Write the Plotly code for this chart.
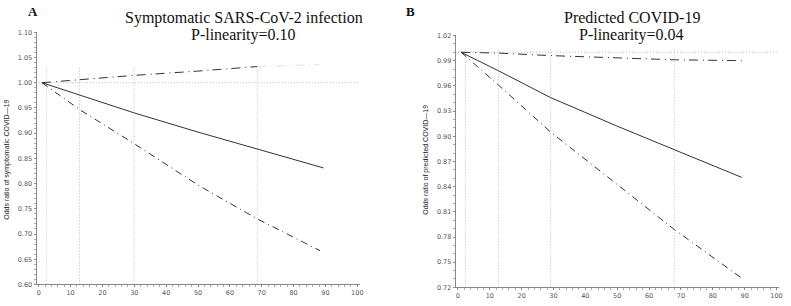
import plotly.graph_objects as go

# ---- data ----
a_x = [1, 13, 30, 50, 68.6, 89.4]
a_or = [1.0, 0.975, 0.940, 0.902, 0.868, 0.831]
a_lo_x = [1, 13, 30, 50, 68.6, 88.3]
a_lo = [1.0, 0.946, 0.879, 0.797, 0.730, 0.667]
a_hi_x = [1, 13, 30, 50, 68.6]
a_hi = [1.0, 1.006, 1.0145, 1.023, 1.032]
a_hi_tail_x = [68.6, 88.0]
a_hi_tail = [1.032, 1.036]
a_knots = [2.4, 12.8, 29.9, 68.6]

b_x = [1, 12.7, 29.1, 50, 67.9, 89.1]
b_or = [1.0, 0.978, 0.946, 0.912, 0.884, 0.851]
b_lo = [1.0, 0.961, 0.905, 0.842, 0.789, 0.731]
b_hi = [1.0, 0.999, 0.996, 0.993, 0.991, 0.990]
b_knots = [2.4, 12.7, 29.1, 67.9]

a_yticks = [0.60, 0.65, 0.70, 0.75, 0.80, 0.85, 0.90, 0.95, 1.00, 1.05, 1.10]
b_yticks = [0.72, 0.75, 0.78, 0.81, 0.84, 0.87, 0.90, 0.93, 0.96, 0.99, 1.02]
x_ticks = [0, 10, 20, 30, 40, 50, 60, 70, 80, 90, 100]

LINE = "#333333"
REF = "#b8b8b8"
DOT = "1px,2px"

fig = go.Figure()


def add_panel(xa, ya, xs, orv, lo_x, lov, hi_x, hiv, href_end):
    fig.add_trace(go.Scatter(x=[0, href_end], y=[1.0, 1.0], mode="lines",
                             line=dict(color=REF, width=1, dash=DOT),
                             xaxis=xa, yaxis=ya, hoverinfo="skip"))
    fig.add_trace(go.Scatter(x=hi_x, y=hiv, mode="lines",
                             line=dict(color=LINE, width=1, dash="9px,5px,1px,4px"),
                             xaxis=xa, yaxis=ya))
    fig.add_trace(go.Scatter(x=lo_x, y=lov, mode="lines",
                             line=dict(color=LINE, width=1, dash="7px,4px,1px,4px"),
                             xaxis=xa, yaxis=ya))
    fig.add_trace(go.Scatter(x=xs, y=orv, mode="lines",
                             line=dict(color=LINE, width=1),
                             xaxis=xa, yaxis=ya))


def knot_shapes(xref, yref, knots, ybot, ytop):
    return [dict(type="line", xref=xref, yref=yref, x0=k, x1=k, y0=ybot, y1=ytop,
                 line=dict(color=REF, width=1, dash=DOT), layer="below") for k in knots]


add_panel("x", "y", a_x, a_or, a_lo_x, a_lo, a_hi_x, a_hi, 102)
fig.add_trace(go.Scatter(x=a_hi_tail_x, y=a_hi_tail, mode="lines",
                         line=dict(color="#e2e2e2", width=1, dash="9px,5px,1px,4px"),
                         xaxis="x", yaxis="y"))
add_panel("x2", "y2", b_x, b_or, b_x, b_lo, b_x, b_hi, 101)

shapes = knot_shapes("x", "y", a_knots, 0.60, 1.034) + knot_shapes("x2", "y2", b_knots, 0.72, 1.005)

tickfont = dict(family="DejaVu Sans", size=6.5, color="#555555")


def xaxis(domain, anchor):
    return dict(domain=domain, anchor=anchor, range=[-0.7, 100.8], tickvals=x_ticks,
                ticks="outside", ticklen=2, tickcolor="#888", showline=True,
                linecolor="#888", linewidth=1, showgrid=False, zeroline=False,
                tickfont=tickfont,
                minor=dict(ticks="outside", ticklen=2, dtick=2, tickcolor="#aaa", showgrid=False))


def yaxis(domain, anchor, rng, ticks, fmt, minor_dt):
    return dict(domain=domain, anchor=anchor, range=rng, tickvals=ticks, tickformat=fmt,
                ticks="outside", ticklen=2, tickcolor="#888", showline=True,
                linecolor="#888", linewidth=1, showgrid=False, zeroline=False,
                tickfont=tickfont,
                minor=dict(ticks="outside", ticklen=2, dtick=minor_dt, tickcolor="#aaa", showgrid=False))


title_font = dict(family="Liberation Serif, Times New Roman, serif", size=16, color="#111")
ytitle_font = dict(family="Liberation Sans, Arial, sans-serif", size=7, color="#222")


def ann(text, px, py, font, angle=0):
    return dict(text=text, x=px / 791, y=1 - py / 306, xref="paper", yref="paper",
                xanchor="center", yanchor="middle", showarrow=False, font=font,
                textangle=angle)


letter_font = dict(family="Liberation Serif, Times New Roman, serif", size=13, color="#111")

fig.update_layout(
    width=791, height=306,
    margin=dict(l=0, r=0, t=0, b=0),
    paper_bgcolor="white", plot_bgcolor="white",
    showlegend=False,
    xaxis=xaxis([36.7 / 791, 361.7 / 791], "y"),
    yaxis=yaxis([1 - 288 / 306, 1 - 29 / 306], "x", [0.60, 1.10], a_yticks, ".2f", 0.01),
    xaxis2=xaxis([458 / 791, 783 / 791], "y2"),
    yaxis2=yaxis([1 - 291 / 306, 1 - 32.3 / 306], "x2", [0.72, 1.02], b_yticks, ".2f", 0.01),
    shapes=shapes,
    annotations=[
        ann("<b>A</b>", 33, 8, letter_font),
        ann("Symptomatic SARS-CoV-2 infection", 245, 14, title_font),
        ann("P-linearity=0.10", 245, 32, title_font),
        ann("<b>B</b>", 413, 8, letter_font),
        ann("Predicted COVID-19", 635, 14, title_font),
        ann("P-linearity=0.04", 635, 32, title_font),
        ann("Odds ratio of symptomatic COVID\u201419", 7, 160, ytitle_font, -90),
        ann("Odds ratio of predicted COVID\u201419", 428, 160, ytitle_font, -90),
    ],
)

fig.write_html(
    "out.html",
    config={"displayModeBar": False},
    post_script="document.body.style.margin='0';document.body.style.overflow='hidden';",
)
